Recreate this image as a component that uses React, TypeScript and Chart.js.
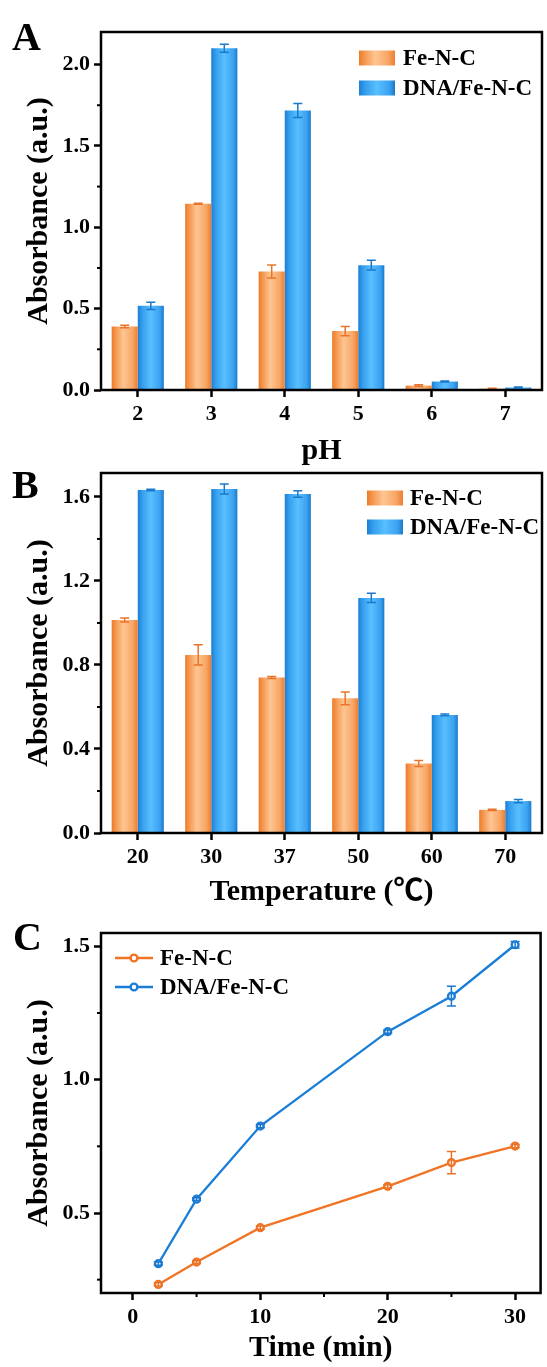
import React, { useEffect, useRef } from 'react';
import { Chart, registerables } from 'chart.js';

Chart.register(...registerables);

const FONT = "'Liberation Serif', 'Times New Roman', 'Noto Sans CJK SC', serif";

// ---------- Data ----------
const seriesNames = ['Fe-N-C', 'DNA/Fe-N-C'];

// Panel A: pH
const phLabels = ['2', '3', '4', '5', '6', '7'];
const phFe = [0.39, 1.145, 0.728, 0.362, 0.027, 0.008];
const phFeErr = [0.008, 0.003, 0.04, 0.028, 0.005, 0.002];
const phDna = [0.517, 2.1, 1.718, 0.767, 0.052, 0.015];
const phDnaErr = [0.022, 0.024, 0.043, 0.03, 0.003, 0.003];
const phYTicks = [0, 0.5, 1.0, 1.5, 2.0];
const phYMinor = [0.25, 0.75, 1.25, 1.75];

// Panel B: Temperature
const tempLabels = ['20', '30', '37', '50', '60', '70'];
const tempFe = [1.014, 0.848, 0.74, 0.641, 0.331, 0.11];
const tempFeErr = [0.01, 0.048, 0.005, 0.03, 0.014, 0.003];
const tempDna = [1.633, 1.638, 1.614, 1.119, 0.562, 0.152];
const tempDnaErr = [0.004, 0.024, 0.016, 0.022, 0.004, 0.008];
const tempYTicks = [0, 0.4, 0.8, 1.2, 1.6];
const tempYMinor = [0.2, 0.6, 1.0, 1.4];

// Panel C: Time
const timeMin = [2, 5, 10, 20, 25, 30];
const timeFe = [0.232, 0.316, 0.445, 0.6, 0.689, 0.751];
const timeFeErr = [0.006, 0.005, 0.006, 0.006, 0.042, 0.006];
const timeDna = [0.31, 0.552, 0.826, 1.18, 1.313, 1.506];
const timeDnaErr = [0.006, 0.005, 0.006, 0.006, 0.037, 0.012];
const timeXTicks = [0, 10, 20, 30];
const timeXMinor = [5, 15, 25];
const timeYTicks = [0.5, 1.0, 1.5];
const timeYMinor = [0.25, 0.75, 1.25];

// ---------- Styles ----------
const ORANGE_STOPS: [number, string][] = [
  [0, '#EE7A27'], [0.18, '#F59B55'], [0.45, '#FEC592'], [0.8, '#F7A666'], [1, '#EE7E2D'],
];
const BLUE_STOPS: [number, string][] = [
  [0, '#1B7ED6'], [0.18, '#36A0EE'], [0.5, '#59BFFF'], [0.85, '#3AA1EF'], [1, '#1978CC'],
];
const ORANGE_LINE = '#F07424';
const BLUE_LINE = '#1B7ED6';
const ORANGE_ERR = '#E8742A';
const BLUE_ERR = '#1B78CC';

const W = 547;

// ---------- Plugins ----------
const barGradientPlugin = {
  id: 'barGrad',
  beforeDatasetsDraw(chart: any) {
    const ctx = chart.ctx;
    chart.data.datasets.forEach((ds: any, i: number) => {
      if (!ds.gradStops) return;
      const meta = chart.getDatasetMeta(i);
      meta.data.forEach((el: any) => {
        const { x, width } = el.getProps(['x', 'width'], true);
        const left = x - width / 2;
        const g = ctx.createLinearGradient(left, 0, left + width, 0);
        ds.gradStops.forEach(([o, c]: [number, string]) => g.addColorStop(o, c));
        el.options = Object.assign({}, el.options, { backgroundColor: g });
      });
    });
  },
};

const errorBarPlugin = {
  id: 'errBars',
  afterDatasetsDraw(chart: any) {
    const ctx = chart.ctx;
    const ys = chart.scales.y;
    chart.data.datasets.forEach((ds: any, i: number) => {
      const errs = ds.errors;
      if (!errs) return;
      const meta = chart.getDatasetMeta(i);
      ctx.save();
      ctx.strokeStyle = ds.errColor;
      ctx.lineWidth = 1.5;
      meta.data.forEach((el: any, j: number) => {
        const raw = ds.data[j];
        const v = typeof raw === 'number' ? raw : raw.y;
        const x = el.x;
        const yT = ys.getPixelForValue(v + errs[j]);
        const yB = ys.getPixelForValue(v - errs[j]);
        const cap = 4.5;
        ctx.beginPath();
        ctx.moveTo(x, yT); ctx.lineTo(x, yB);
        ctx.moveTo(x - cap, yT); ctx.lineTo(x + cap, yT);
        ctx.moveTo(x - cap, yB); ctx.lineTo(x + cap, yB);
        ctx.stroke();
      });
      ctx.restore();
    });
  },
};

const decorPlugin = {
  id: 'decor',
  afterDraw(chart: any, _args: any, opts: any) {
    const ctx = chart.ctx;
    const a = chart.chartArea;
    ctx.save();
    // frame
    ctx.strokeStyle = '#000';
    ctx.lineWidth = 2.5;
    ctx.strokeRect(a.left, a.top, a.right - a.left, a.bottom - a.top);
    // minor ticks
    ctx.lineWidth = 2;
    const ys = chart.scales.y;
    (opts.yMinor || []).forEach((v: number) => {
      const y = ys.getPixelForValue(v);
      ctx.beginPath(); ctx.moveTo(a.left - 4, y); ctx.lineTo(a.left, y); ctx.stroke();
    });
    const xs = chart.scales.x;
    (opts.xMinor || []).forEach((v: number) => {
      const x = xs.getPixelForValue(v);
      ctx.beginPath(); ctx.moveTo(x, a.bottom); ctx.lineTo(x, a.bottom + 4); ctx.stroke();
    });
    // panel letter
    ctx.fillStyle = '#000';
    ctx.font = `bold 40px ${FONT}`;
    ctx.textBaseline = 'alphabetic';
    ctx.textAlign = 'left';
    ctx.fillText(opts.letter, opts.letterX, opts.letterY);
    // legend
    ctx.font = `bold 23px ${FONT}`;
    ctx.textBaseline = 'middle';
    const L = opts.legend;
    chart.data.datasets.forEach((ds: any, i: number) => {
      const cy = L.y + i * L.gap;
      if (L.kind === 'bar') {
        const g = ctx.createLinearGradient(L.x, 0, L.x + 36, 0);
        ds.gradStops.forEach(([o, c]: [number, string]) => g.addColorStop(o, c));
        ctx.fillStyle = g;
        ctx.fillRect(L.x, cy - 7.5, 36, 15);
      } else {
        ctx.strokeStyle = ds.borderColor;
        ctx.lineWidth = 2.5;
        ctx.beginPath(); ctx.moveTo(L.x, cy); ctx.lineTo(L.x + 38, cy); ctx.stroke();
        ctx.beginPath(); ctx.arc(L.x + 19, cy, 3.4, 0, Math.PI * 2);
        ctx.fillStyle = '#fff'; ctx.fill();
        ctx.lineWidth = 2.4; ctx.stroke();
      }
      ctx.fillStyle = '#000';
      ctx.fillText(ds.label, L.textX, cy + 1);
    });
    ctx.restore();
  },
};

// ---------- Config builders ----------
const tickFont = { family: FONT, size: 22, weight: 'bold' as const };
const titleFont = { family: FONT, size: 30, weight: 'bold' as const, lineHeight: 1 };

function yScale(min: number, max: number, ticks: number[], width: number) {
  return {
    type: 'linear',
    min, max,
    afterBuildTicks: (s: any) => { s.ticks = ticks.map((v) => ({ value: v })); },
    afterFit: (s: any) => { s.width = width; },
    border: { display: false },
    grid: { display: true, drawOnChartArea: false, drawTicks: true, tickLength: 7, tickWidth: 2.5, tickColor: '#000' },
    ticks: { color: '#000', font: tickFont, padding: 4, callback: (v: any) => Number(v).toFixed(1) },
    title: { display: true, text: 'Absorbance (a.u.)', color: '#000', font: titleFont, padding: { top: 24, bottom: 0 } },
  };
}

function barConfig(p: any) {
  return {
    type: 'bar',
    data: {
      labels: p.labels,
      datasets: [
        { label: seriesNames[0], data: p.fe, errors: p.feErr, errColor: ORANGE_ERR, gradStops: ORANGE_STOPS, backgroundColor: '#F7A666', borderWidth: 0, categoryPercentage: 0.71, barPercentage: 1 },
        { label: seriesNames[1], data: p.dna, errors: p.dnaErr, errColor: BLUE_ERR, gradStops: BLUE_STOPS, backgroundColor: '#3AA1EF', borderWidth: 0, categoryPercentage: 0.71, barPercentage: 1 },
      ],
    },
    options: {
      responsive: false,
      animation: false,
      devicePixelRatio: 1,
      layout: { padding: { left: 0, right: 5, top: p.top, bottom: 0 } },
      plugins: {
        legend: { display: false },
        tooltip: { enabled: false },
        decor: { yMinor: p.yMinor, xMinor: [], letter: p.letter, letterX: p.letterX, letterY: p.letterY, legend: p.legend },
      },
      scales: {
        x: {
          type: 'category',
          offset: true,
          afterFit: (s: any) => { s.height = p.xh; },
          border: { display: false },
          grid: { display: true, offset: false, drawOnChartArea: false, drawTicks: true, tickLength: 7, tickWidth: 2.5, tickColor: '#000' },
          ticks: { color: '#000', font: tickFont, padding: 4 },
          title: { display: true, text: p.xTitle, color: '#000', font: titleFont, padding: { top: 0, bottom: p.xTitlePad } },
        },
        y: yScale(0, p.yMax, p.yTicks, 101),
      },
    },
    plugins: [barGradientPlugin, errorBarPlugin, decorPlugin],
  };
}

function lineConfig() {
  const mk = (name: string, ys: number[], errs: number[], color: string, errColor: string) => ({
    label: name,
    data: timeMin.map((t, i) => ({ x: t, y: ys[i] })),
    errors: errs,
    errColor,
    borderColor: color,
    backgroundColor: '#fff',
    borderWidth: 2.3,
    pointRadius: 3.4,
    pointBorderWidth: 2.4,
    pointBackgroundColor: '#fff',
    pointBorderColor: color,
    tension: 0,
  });
  return {
    type: 'line',
    data: {
      datasets: [
        mk(seriesNames[0], timeFe, timeFeErr, ORANGE_LINE, ORANGE_ERR),
        mk(seriesNames[1], timeDna, timeDnaErr, BLUE_LINE, BLUE_ERR),
      ],
    },
    options: {
      responsive: false,
      animation: false,
      devicePixelRatio: 1,
      layout: { padding: { left: 0, right: 5, top: 33, bottom: 0 } },
      plugins: {
        legend: { display: false },
        tooltip: { enabled: false },
        decor: { yMinor: timeYMinor, xMinor: timeXMinor, letter: 'C', letterX: 13, letterY: 50, legend: { kind: 'line', x: 115, textX: 160, y: 58, gap: 29 } },
      },
      scales: {
        x: {
          type: 'linear',
          min: -2.5, max: 32,
          afterBuildTicks: (s: any) => { s.ticks = timeXTicks.map((v) => ({ value: v })); },
          afterFit: (s: any) => { s.height = 74; },
          border: { display: false },
          grid: { display: true, drawOnChartArea: false, drawTicks: true, tickLength: 7, tickWidth: 2.5, tickColor: '#000' },
          ticks: { color: '#000', font: tickFont, padding: 4, callback: (v: any) => String(v) },
          title: { display: true, text: 'Time (min)', color: '#000', font: titleFont, padding: { top: 0, bottom: 4 } },
        },
        y: yScale(0.2, 1.55, timeYTicks, 101),
      },
    },
    plugins: [errorBarPlugin, decorPlugin],
  };
}

function ChartCanvas({ top, height, make }: { top: number; height: number; make: () => any }) {
  const ref = useRef<HTMLCanvasElement | null>(null);
  useEffect(() => {
    if (!ref.current) return;
    const chart = new Chart(ref.current, make());
    return () => chart.destroy();
  }, []);
  return (
    <canvas
      ref={ref}
      width={W}
      height={height}
      style={{ position: 'absolute', left: 0, top, width: W, height }}
    />
  );
}

export default function App() {
  return (
    <div style={{ position: 'absolute', left: 0, top: 0, width: W, height: 1367, background: '#fff', overflow: 'hidden' }}>
      <ChartCanvas
        top={0}
        height={470}
        make={() => barConfig({
          labels: phLabels, fe: phFe, feErr: phFeErr, dna: phDna, dnaErr: phDnaErr,
          yMax: 2.2, yTicks: phYTicks, yMinor: phYMinor, xTitle: 'pH', top: 32, xh: 80, xTitlePad: 4,
          letter: 'A', letterX: 12, letterY: 50,
          legend: { kind: 'bar', x: 359, textX: 403, y: 58, gap: 30 },
        })}
      />
      <ChartCanvas
        top={440}
        height={470}
        make={() => barConfig({
          labels: tempLabels, fe: tempFe, feErr: tempFeErr, dna: tempDna, dnaErr: tempDnaErr,
          yMax: 1.714, yTicks: tempYTicks, yMinor: tempYMinor, xTitle: 'Temperature (℃)', top: 33, xh: 77, xTitlePad: 3,
          letter: 'B', letterX: 12, letterY: 58,
          legend: { kind: 'bar', x: 367, textX: 410, y: 58, gap: 29 },
        })}
      />
      <ChartCanvas top={900} height={467} make={lineConfig} />
    </div>
  );
}
